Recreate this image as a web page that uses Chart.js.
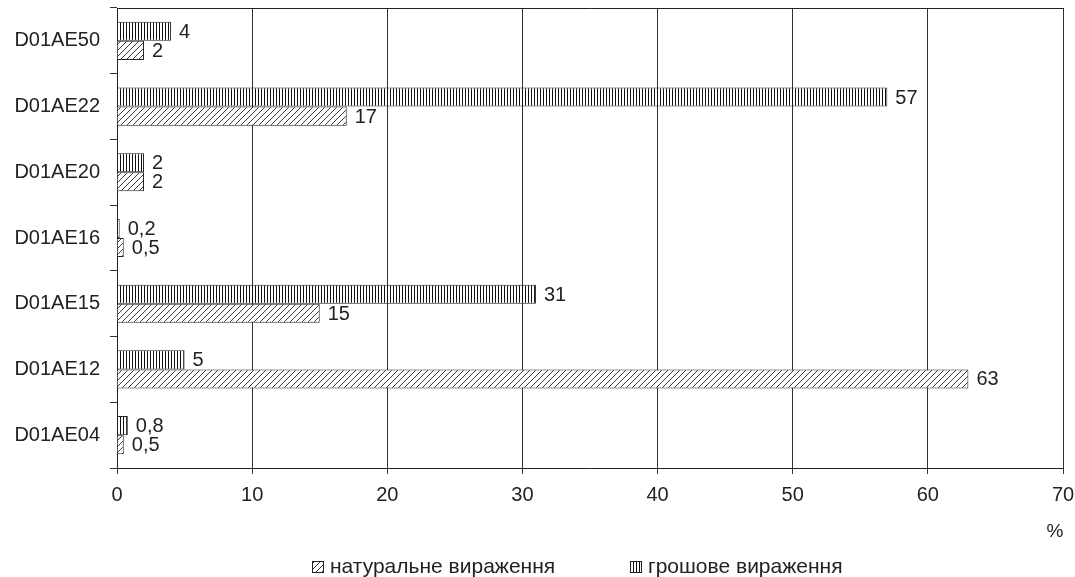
<!DOCTYPE html>
<html>
<head>
<meta charset="utf-8">
<script src="https://cdn.jsdelivr.net/npm/chart.js@4/dist/chart.umd.min.js"></script>
<style>
  body { margin: 0; background: #fff; }
  #wrap { width: 1075px; height: 577px; }
</style>
</head>
<body>
<div id="wrap"><canvas id="chart" width="1075" height="577"></canvas></div>
<script>
// ---------- Data ----------
const categories = ["D01AE50", "D01AE22", "D01AE20", "D01AE16", "D01AE15", "D01AE12", "D01AE04"];
const moneyValues = [4, 57, 2, 0.2, 31, 5, 0.8];      // грошове вираження
const naturalValues = [2, 17, 2, 0.5, 15, 63, 0.5];   // натуральне вираження
const xTicks = [0, 10, 20, 30, 40, 50, 60, 70];
const moneyLabel = "грошове вираження";
const naturalLabel = "натуральне вираження";

const FONT = "'Liberation Sans', Arial, sans-serif";

// ---------- Hatch patterns ----------
function verticalStripes() {
  const c = document.createElement("canvas");
  c.width = 3; c.height = 3;
  const g = c.getContext("2d");
  g.fillStyle = "#fff"; g.fillRect(0, 0, 3, 3);
  g.fillStyle = "#111"; g.fillRect(0, 0, 1, 3);
  return g.createPattern(c, "repeat");
}

function diagonalHatch() {
  const s = 6;
  const c = document.createElement("canvas");
  c.width = s; c.height = s;
  const g = c.getContext("2d");
  g.fillStyle = "#fff"; g.fillRect(0, 0, s, s);
  g.strokeStyle = "#222"; g.lineWidth = 0.9;
  g.beginPath();
  g.moveTo(0, s); g.lineTo(s, 0);
  g.moveTo(-1, 1); g.lineTo(1, -1);
  g.moveTo(s - 1, s + 1); g.lineTo(s + 1, s - 1);
  g.stroke();
  return g.createPattern(c, "repeat");
}

const moneyFill = verticalStripes();
const naturalFill = diagonalHatch();

const fmt = v => String(v).replace(".", ",");

// ---------- Value labels, frame, % and legend ----------
const extras = {
  id: "extras",
  afterDatasetsDraw(chart) {
    const ctx = chart.ctx;
    ctx.save();
    ctx.font = "20px " + FONT;
    ctx.fillStyle = "#222";
    ctx.textBaseline = "middle";
    ctx.textAlign = "left";
    chart.data.datasets.forEach((ds, i) => {
      chart.getDatasetMeta(i).data.forEach((bar, j) => {
        ctx.fillText(fmt(ds.data[j]), bar.x + 8, bar.y + 1);
      });
    });
    ctx.restore();
  },
  afterDraw(chart) {
    const ctx = chart.ctx;
    const a = chart.chartArea;
    ctx.save();
    // frame top line
    ctx.strokeStyle = "#222";
    ctx.lineWidth = 1;
    ctx.beginPath();
    ctx.moveTo(a.left, a.top + 0.5);
    ctx.lineTo(a.right + 0.5, a.top + 0.5);
    ctx.stroke();

    // axis unit
    ctx.font = "19px " + FONT;
    ctx.fillStyle = "#222";
    ctx.textBaseline = "middle";
    ctx.textAlign = "center";
    ctx.fillText("%", 1055, 532);

    // legend
    const items = [
      { text: naturalLabel, fill: naturalFill, x: 312 },
      { text: moneyLabel, fill: moneyFill, x: 630 }
    ];
    ctx.font = "21px " + FONT;
    ctx.textAlign = "left";
    items.forEach(it => {
      ctx.fillStyle = it.fill;
      ctx.fillRect(it.x, 561, 12, 12);
      ctx.strokeStyle = "#222";
      ctx.strokeRect(it.x + 0.5, 561.5, 11, 11);
      ctx.fillStyle = "#222";
      ctx.fillText(it.text, it.x + 18, 567);
    });
    ctx.restore();
  }
};

new Chart(document.getElementById("chart"), {
  type: "bar",
  data: {
    labels: categories,
    datasets: [
      {
        label: moneyLabel,
        data: moneyValues,
        backgroundColor: moneyFill,
        borderColor: "#222",
        borderWidth: 1,
        categoryPercentage: 0.58,
        barPercentage: 1.0
      },
      {
        label: naturalLabel,
        data: naturalValues,
        backgroundColor: naturalFill,
        borderColor: "#222",
        borderWidth: 1,
        categoryPercentage: 0.58,
        barPercentage: 1.0
      }
    ]
  },
  options: {
    indexAxis: "y",
    responsive: false,
    animation: false,
    layout: { padding: { top: 8, right: 12, bottom: 0, left: 0 } },
    scales: {
      x: {
        min: 0,
        max: 70,
        afterBuildTicks: s => { s.ticks = xTicks.map(v => ({ value: v })); },
        afterFit: s => { s.height = 109; s.paddingLeft = 0; s.paddingRight = 0; },
        grid: { color: "#333", lineWidth: 1, tickLength: 6, tickColor: "#333" },
        border: { color: "#222", width: 1 },
        ticks: { color: "#222", padding: 9, font: { family: FONT, size: 20 } }
      },
      y: {
        afterFit: s => { s.width = 117; s.paddingTop = 0; s.paddingBottom = 0; },
        grid: { drawOnChartArea: false, offset: true, tickLength: 7, tickColor: "#333" },
        border: { color: "#222", width: 1 },
        ticks: { color: "#222", padding: 10, font: { family: FONT, size: 20 } }
      }
    },
    plugins: {
      legend: { display: false },
      tooltip: { enabled: false }
    }
  },
  plugins: [extras]
});
</script>
</body>
</html>
